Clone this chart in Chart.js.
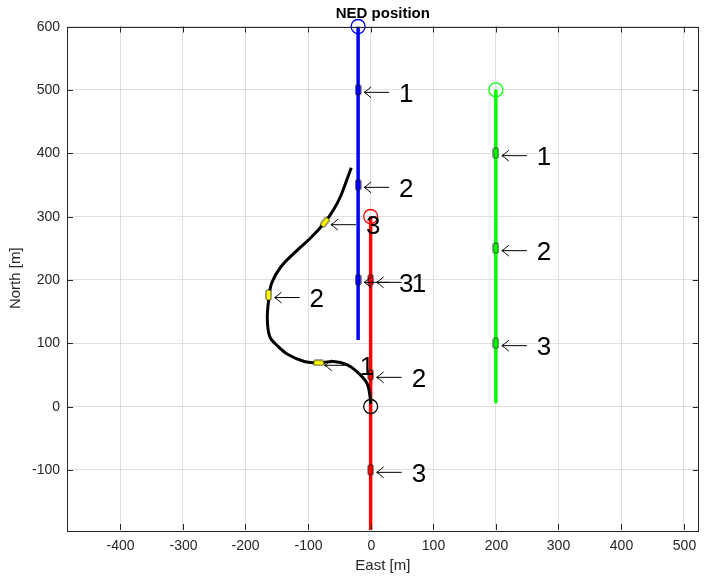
<!DOCTYPE html>
<html>
<head>
<meta charset="utf-8">
<script src="https://cdn.jsdelivr.net/npm/chart.js"></script>
<style>
  html, body { margin: 0; padding: 0; background: #fff; }
</style>
</head>
<body>
<canvas id="nedChart" width="707" height="580"></canvas>
<script>
// NED tracks (east, north) in metres
const blueTrack = [[-20, 600], [-20, 105]];
const redTrack = [[0, 300], [0, -195]];
const greenTrack = [[200, 500], [200, 5]];
const blackTrack = [
  [0, 4], [-1, 16], [-6, 37], [-22, 55], [-38, 66], [-59, 71], [-83, 69],
  [-106, 71], [-132, 82], [-148, 95], [-161, 110], [-165, 137], [-163, 168],
  [-158, 195], [-143, 221], [-117, 247], [-96, 266], [-73, 291], [-59, 311],
  [-48, 332], [-38, 358], [-31, 377]
];

// start points
const blueStart = [-20, 600];
const redStart = [0, 300];
const greenStart = [200, 500];
const blackStart = [0, 0];

// waypoint markers, labelled 1..3
const blueMarks = [[-20, 500], [-20, 350], [-20, 200]];
const redMarks = [[0, 200], [0, 50], [0, -100]];
const greenMarks = [[200, 400], [200, 250], [200, 100]];
const blackMarks = [[-83, 69], [-163, 176], [-73, 291]];
const blackMarkAngles = [0, 90, -52];
const markLabels = ['1', '2', '3'];

const xTicks = [-400, -300, -200, -100, 0, 100, 200, 300, 400, 500];
const yTicks = [-100, 0, 100, 200, 300, 400, 500, 600];

const FONT = "'Liberation Sans', Arial, Helvetica, sans-serif";
const AXIS_COLOR = '#262626';

const toXY = arr => arr.map(p => ({ x: p[0], y: p[1] }));

function markerShape(fill, w, h) {
  const c = document.createElement('canvas');
  c.width = w + 2;
  c.height = h + 2;
  const g = c.getContext('2d');
  g.beginPath();
  g.roundRect(1, 1, w, h, 1.2);
  g.fillStyle = fill;
  g.fill();
  g.lineWidth = 0.8;
  g.strokeStyle = '#111';
  g.stroke();
  return c;
}

function trackSet(points, color, width, tension) {
  return {
    data: toXY(points), showLine: true, borderColor: color, borderWidth: width,
    pointRadius: 0, tension: tension || 0, fill: false
  };
}

function startSet(point, color) {
  return {
    data: toXY([point]), showLine: false, pointStyle: 'circle', pointRadius: 7,
    pointBorderWidth: 1.3, pointBorderColor: color, pointBackgroundColor: 'rgba(0,0,0,0)',
    clip: false
  };
}

function markSet(points, shape, rotation) {
  return {
    data: toXY(points), showLine: false, pointStyle: shape, pointRadius: 5,
    pointRotation: rotation || 0
  };
}

const vMark = c => markerShape(c, 5, 10);

// arrows with labels next to each waypoint; box, inner ticks, tick labels and title
const annotate = {
  id: 'annotate',
  afterDatasetsDraw(chart) {
    const { ctx, scales: { x, y } } = chart;
    const groups = [blueMarks, redMarks, greenMarks, blackMarks];
    ctx.save();
    ctx.strokeStyle = '#000';
    ctx.fillStyle = '#000';
    ctx.lineWidth = 1;
    ctx.font = '26px ' + FONT;
    ctx.textBaseline = 'alphabetic';
    groups.forEach(marks => {
      marks.forEach((m, i) => {
        const px = x.getPixelForValue(m[0]);
        const py = y.getPixelForValue(m[1]) + 2.5;
        const head = px + 6;
        ctx.beginPath();
        ctx.moveTo(head, py);
        ctx.lineTo(px + 31, py);
        ctx.moveTo(head + 7, py - 5.5);
        ctx.quadraticCurveTo(head + 2, py - 1, head, py);
        ctx.quadraticCurveTo(head + 2, py + 1, head + 7, py + 5.5);
        ctx.stroke();
        ctx.fillText(markLabels[i], px + 41, py + 9.5);
      });
    });
    ctx.restore();
  },
  afterDraw(chart) {
    const { ctx, chartArea: a, scales: { x, y } } = chart;
    ctx.save();
    ctx.strokeStyle = AXIS_COLOR;
    ctx.fillStyle = AXIS_COLOR;
    ctx.lineWidth = 1;
    ctx.font = '14px ' + FONT;
    ctx.beginPath();
    ctx.textAlign = 'center';
    ctx.textBaseline = 'top';
    xTicks.forEach(v => {
      const px = Math.round(x.getPixelForValue(v)) + 0.5;
      ctx.moveTo(px, a.bottom); ctx.lineTo(px, a.bottom - 6);
      ctx.moveTo(px, a.top); ctx.lineTo(px, a.top + 6);
      ctx.fillText(String(v), px, a.bottom + 9);
    });
    ctx.textAlign = 'right';
    ctx.textBaseline = 'middle';
    yTicks.forEach(v => {
      const py = Math.round(y.getPixelForValue(v)) + 0.5;
      ctx.moveTo(a.left, py); ctx.lineTo(a.left + 6, py);
      ctx.moveTo(a.right, py); ctx.lineTo(a.right - 6, py);
      ctx.fillText(String(v), a.left - 7, py);
    });
    ctx.stroke();
    ctx.strokeRect(Math.round(a.left) + 0.5, Math.round(a.top) + 0.5,
      Math.round(a.right - a.left) - 1, Math.round(a.bottom - a.top));
    ctx.fillStyle = '#000';
    ctx.font = 'bold 15px ' + FONT;
    ctx.textAlign = 'center';
    ctx.textBaseline = 'middle';
    ctx.fillText('NED position', (a.left + a.right) / 2, 14);
    ctx.restore();
  }
};

new Chart(document.getElementById('nedChart'), {
  type: 'scatter',
  data: {
    datasets: [
      startSet(blueStart, '#0000ff'),
      startSet(redStart, '#ff0000'),
      startSet(greenStart, '#00ff00'),
      startSet(blackStart, '#000000'),
      markSet(blueMarks, vMark('#0000ff')),
      markSet(redMarks, vMark('#ff0000')),
      markSet(greenMarks, vMark('#00ff00')),
      markSet(blackMarks, markerShape('#ffff00', 10, 5), blackMarkAngles),
      trackSet(blackTrack, '#000000', 3, 0.35),
      trackSet(blueTrack, '#0000ff', 3.5),
      trackSet(redTrack, '#ff0000', 3.5),
      trackSet(greenTrack, '#00ff00', 3.5)
    ]
  },
  options: {
    responsive: false,
    animation: false,
    layout: { padding: { top: 26.5, right: 1, left: 0, bottom: 0 } },
    plugins: { legend: { display: false }, tooltip: { enabled: false }, title: { display: false } },
    scales: {
      x: {
        type: 'linear', min: -485, max: 524,
        afterFit: s => { s.height = 50; },
        afterBuildTicks: s => { s.ticks = xTicks.map(v => ({ value: v })); },
        grid: { color: 'rgba(38,38,38,0.14)', drawTicks: false },
        border: { display: false },
        ticks: { display: false },
        title: { display: true, text: 'East [m]', color: AXIS_COLOR, font: { family: FONT, size: 15 }, padding: { top: 0, bottom: 5 } }
      },
      y: {
        type: 'linear', min: -195, max: 600,
        afterFit: s => { s.width = 67; },
        afterBuildTicks: s => { s.ticks = yTicks.map(v => ({ value: v })); },
        grid: { color: 'rgba(38,38,38,0.14)', drawTicks: false },
        border: { display: false },
        ticks: { display: false },
        title: { display: true, text: 'North [m]', color: AXIS_COLOR, font: { family: FONT, size: 15 }, padding: { top: 7, bottom: 0 } }
      }
    }
  },
  plugins: [annotate]
});
</script>
</body>
</html>
